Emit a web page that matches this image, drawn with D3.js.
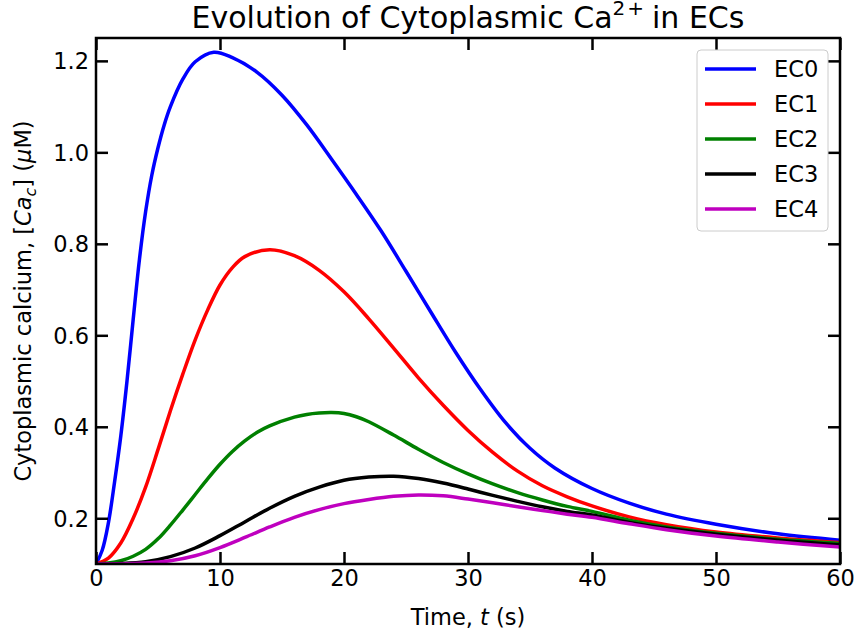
<!DOCTYPE html>
<html>
<head>
<meta charset="utf-8">
<script src="https://cdn.jsdelivr.net/npm/d3@7"></script>
<style>
  body { margin: 0; background: #fff; }
  svg { display: block; font-family: "DejaVu Sans", sans-serif; }
</style>
</head>
<body>
<svg id="chart" width="857" height="637"></svg>
<script>
// values (time in s, calcium in uM)
const seriesNames = ['EC0', 'EC1', 'EC2', 'EC3', 'EC4'];
const seriesColors = ['#0000ff', '#ff0000', '#008000', '#000000', '#bf00bf'];

const ec0Time = [0, 0.5, 1, 1.5, 2, 2.5, 3, 3.5, 4, 4.5, 5, 5.5, 6, 7, 8, 9.5, 11, 13, 15, 17, 19, 21, 23, 25, 27, 29, 31, 33, 35, 37, 40, 43, 46, 50, 55, 60];
const ec0Vals = [0.100, 0.130, 0.190, 0.280, 0.380, 0.500, 0.635, 0.765, 0.870, 0.950, 1.010, 1.060, 1.100, 1.160, 1.198, 1.219, 1.207, 1.175, 1.125, 1.060, 0.985, 0.908, 0.828, 0.740, 0.651, 0.563, 0.482, 0.410, 0.353, 0.310, 0.265, 0.233, 0.209, 0.187, 0.166, 0.152];

const ec1Time = [0, 1, 2, 3, 4, 5, 6, 7, 8, 9, 10, 11, 12, 14, 16, 18, 20, 22, 24, 26, 28, 30, 32, 34, 36, 38, 40, 43, 46, 50, 55, 60];
const ec1Vals = [0.100, 0.113, 0.146, 0.200, 0.268, 0.350, 0.435, 0.515, 0.590, 0.655, 0.710, 0.748, 0.772, 0.787, 0.774, 0.742, 0.695, 0.636, 0.572, 0.507, 0.447, 0.392, 0.344, 0.303, 0.271, 0.247, 0.227, 0.203, 0.186, 0.170, 0.157, 0.147];

const ec2Time = [0, 1, 2, 3, 4, 5, 6, 7, 8, 9, 10, 11, 12, 13, 14, 16, 17, 18, 19, 20, 21, 22, 24, 26, 28, 30, 32, 34, 36, 38, 40, 43, 46, 50, 55, 60];
const ec2Vals = [0.100, 0.102, 0.107, 0.117, 0.132, 0.155, 0.185, 0.218, 0.252, 0.286, 0.318, 0.346, 0.369, 0.388, 0.402, 0.421, 0.427, 0.430, 0.431, 0.429, 0.422, 0.411, 0.382, 0.351, 0.322, 0.297, 0.275, 0.256, 0.240, 0.226, 0.215, 0.196, 0.181, 0.167, 0.154, 0.145];

const ec3Time = [0, 2, 4, 6, 8, 10, 12, 14, 16, 18, 20, 22, 24, 26, 28, 30, 32, 34, 36, 38, 40, 43, 46, 50, 55, 60];
const ec3Vals = [0.100, 0.101, 0.105, 0.116, 0.135, 0.162, 0.192, 0.222, 0.248, 0.268, 0.283, 0.290, 0.292, 0.287, 0.277, 0.264, 0.250, 0.237, 0.225, 0.215, 0.207, 0.191, 0.178, 0.165, 0.152, 0.142];

const ec4Time = [0, 2, 4, 6, 8, 10, 12, 14, 16, 18, 20, 22, 24, 26, 28, 30, 32, 34, 36, 38, 40, 43, 46, 50, 55, 60];
const ec4Vals = [0.100, 0.100, 0.102, 0.107, 0.118, 0.136, 0.158, 0.181, 0.202, 0.219, 0.232, 0.241, 0.248, 0.251, 0.249, 0.242, 0.234, 0.225, 0.217, 0.209, 0.202, 0.188, 0.175, 0.161, 0.148, 0.137];

const xTicks = [0, 10, 20, 30, 40, 50, 60];
const yTicks = [0.2, 0.4, 0.6, 0.8, 1.0, 1.2];

const times = [ec0Time, ec1Time, ec2Time, ec3Time, ec4Time];
const vals = [ec0Vals, ec1Vals, ec2Vals, ec3Vals, ec4Vals];
const series = seriesNames.map((name, i) => ({
    name: name,
    color: seriesColors[i],
    points: times[i].map((t, j) => ({ t: t, v: vals[i][j] }))
}));

const svg = d3.select('#chart');
const width = 857, height = 637;
const margin = { top: 38, right: 17, bottom: 73, left: 96 };
const innerWidth = width - margin.left - margin.right;
const innerHeight = height - margin.top - margin.bottom;

const g = svg.append('g').attr('transform', `translate(${margin.left},${margin.top})`);

const x = d3.scaleLinear().domain([0, 60]).range([0, innerWidth]);
const y = d3.scaleLinear().domain([0.1, 1.25]).range([innerHeight, 0]);

// clip so thick lines stay inside the frame
svg.append('defs').append('clipPath').attr('id', 'plotclip')
    .append('rect').attr('width', innerWidth).attr('height', innerHeight);

const line = d3.line()
    .x(d => x(d.t))
    .y(d => y(d.v))
    .curve(d3.curveCatmullRom.alpha(0.5));

g.append('g').attr('clip-path', 'url(#plotclip)')
    .selectAll('path.series')
    .data(series)
    .enter()
    .append('path')
    .attr('class', 'series')
    .attr('d', d => line(d.points))
    .style('fill', 'none')
    .style('stroke', d => d.color)
    .style('stroke-width', 3.5)
    .style('stroke-linejoin', 'round');

// axes: ticks point inward on all four sides
const tickLen = 12;
const fontSize = 22.5;

const bottomAxis = g.append('g').attr('transform', `translate(0,${innerHeight})`)
    .call(d3.axisBottom(x).tickValues(xTicks).tickSizeInner(-tickLen).tickSizeOuter(0).tickPadding(0).tickFormat(d3.format('d')));
const topAxis = g.append('g')
    .call(d3.axisTop(x).tickValues(xTicks).tickSizeInner(-tickLen).tickSizeOuter(0));
const leftAxis = g.append('g')
    .call(d3.axisLeft(y).tickValues(yTicks).tickSizeInner(-tickLen).tickSizeOuter(0).tickPadding(0).tickFormat(d3.format('.1f')));
const rightAxis = g.append('g').attr('transform', `translate(${innerWidth},0)`)
    .call(d3.axisRight(y).tickValues(yTicks).tickSizeInner(-tickLen).tickSizeOuter(0));

// top and right ticks carry no labels
topAxis.selectAll('text').remove();
rightAxis.selectAll('text').remove();

[bottomAxis, topAxis, leftAxis, rightAxis].forEach(a => {
    a.attr('font-size', fontSize).attr('font-family', '"DejaVu Sans", sans-serif');
    a.select('.domain').remove();
    a.selectAll('.tick line').style('stroke', '#000').style('stroke-width', 2.5);
    a.selectAll('text').style('fill', '#000');
});
bottomAxis.selectAll('text').attr('y', 6).attr('dy', '0.71em');
leftAxis.selectAll('text').attr('x', -7).attr('dy', '0.35em');

// frame
g.append('rect')
    .attr('width', innerWidth)
    .attr('height', innerHeight)
    .style('fill', 'none')
    .style('stroke', '#000')
    .style('stroke-width', 2.5);

// title
const title = svg.append('text')
    .attr('x', margin.left + innerWidth / 2)
    .attr('y', 28)
    .attr('text-anchor', 'middle')
    .attr('font-size', 30);
title.append('tspan').text('Evolution of Cytoplasmic Ca');
title.append('tspan').attr('dy', -13).attr('font-size', 20).attr('letter-spacing', 2).text('2+');
title.append('tspan').attr('dy', 13).attr('dx', 6).text('in ECs');

// x label
const xl = svg.append('text')
    .attr('x', margin.left + innerWidth / 2)
    .attr('y', 625)
    .attr('text-anchor', 'middle')
    .attr('font-size', fontSize);
xl.append('tspan').text('Time, ');
xl.append('tspan').attr('font-style', 'italic').text('t');
xl.append('tspan').text(' (s)');

// y label
const yl = svg.append('text')
    .attr('transform', `translate(31,${margin.top + innerHeight / 2}) rotate(-90)`)
    .attr('text-anchor', 'middle')
    .attr('font-size', fontSize);
yl.append('tspan').text('Cytoplasmic calcium, [');
yl.append('tspan').attr('font-style', 'italic').text('Ca');
yl.append('tspan').attr('dy', 5).attr('font-style', 'italic').attr('font-size', 16).text('c');
yl.append('tspan').attr('dy', -5).text('] (');
yl.append('tspan').attr('font-style', 'italic').text('\u03bc');
yl.append('tspan').text('M)');

// legend
const legend = svg.append('g').attr('transform', 'translate(697,50)');
legend.append('rect')
    .attr('width', 131)
    .attr('height', 181)
    .attr('rx', 4)
    .style('fill', '#fff')
    .style('fill-opacity', 0.8)
    .style('stroke', '#cccccc')
    .style('stroke-width', 1);

const items = legend.selectAll('g.item')
    .data(series)
    .enter()
    .append('g')
    .attr('class', 'item')
    .attr('transform', (d, i) => `translate(0,${19 + i * 35})`);
items.append('line')
    .attr('x1', 8).attr('x2', 59)
    .style('stroke', d => d.color)
    .style('stroke-width', 3.5);
items.append('text')
    .attr('x', 77)
    .attr('dy', '0.35em')
    .attr('font-size', fontSize)
    .text(d => d.name);
</script>
</body>
</html>
